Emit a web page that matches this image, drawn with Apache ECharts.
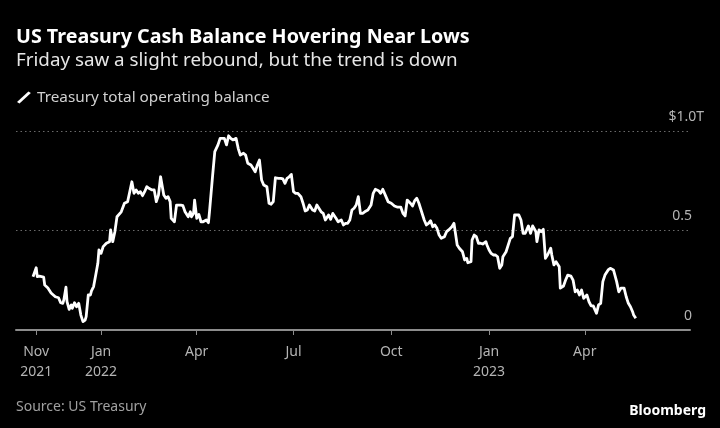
<!DOCTYPE html>
<html><head><meta charset="utf-8">
<script src="https://cdn.jsdelivr.net/npm/echarts@6/dist/echarts.min.js"></script>
<style>html,body{margin:0;padding:0;background:#000}#c{width:720px;height:428px}</style>
</head><body><div id="c"></div>
<script>
const dates = [
'2021-10-29','2021-11-01','2021-11-02','2021-11-04','2021-11-05','2021-11-08','2021-11-09','2021-11-12','2021-11-15','2021-11-19',
'2021-11-22','2021-11-24','2021-11-26','2021-11-27','2021-11-29','2021-11-30','2021-12-02','2021-12-04','2021-12-05','2021-12-07',
'2021-12-09','2021-12-11','2021-12-13','2021-12-15','2021-12-17','2021-12-18','2021-12-20','2021-12-22','2021-12-23','2021-12-25',
'2021-12-27','2021-12-29','2021-12-30','2022-01-01','2022-01-03','2022-01-06','2022-01-09','2022-01-10','2022-01-12','2022-01-14',
'2022-01-16','2022-01-20','2022-01-23','2022-01-26','2022-01-28','2022-01-30','2022-02-01','2022-02-03','2022-02-05','2022-02-07',
'2022-02-09','2022-02-11','2022-02-13','2022-02-15','2022-02-18','2022-02-20','2022-02-22','2022-02-24','2022-02-26','2022-03-01',
'2022-03-03','2022-03-05','2022-03-07','2022-03-08','2022-03-11','2022-03-13','2022-03-15','2022-03-17','2022-03-19','2022-03-21',
'2022-03-24','2022-03-26','2022-03-27','2022-03-29','2022-03-30','2022-04-01','2022-04-03','2022-04-05','2022-04-07','2022-04-10',
'2022-04-12','2022-04-13','2022-04-16','2022-04-18','2022-04-21','2022-04-23','2022-04-24','2022-04-27','2022-04-29','2022-05-01',
'2022-05-03','2022-05-05','2022-05-08','2022-05-10','2022-05-12','2022-05-15','2022-05-17','2022-05-19','2022-05-22','2022-05-24',
'2022-05-26','2022-05-28','2022-05-30','2022-06-01','2022-06-03','2022-06-06','2022-06-08','2022-06-10','2022-06-12','2022-06-14',
'2022-06-17','2022-06-19','2022-06-21','2022-06-23','2022-06-25','2022-06-27','2022-06-29','2022-07-01','2022-07-03','2022-07-05',
'2022-07-08','2022-07-10','2022-07-12','2022-07-14','2022-07-16','2022-07-19','2022-07-21','2022-07-23','2022-07-27','2022-07-29',
'2022-07-31','2022-08-03','2022-08-05','2022-08-07','2022-08-10','2022-08-12','2022-08-15','2022-08-17','2022-08-19','2022-08-21',
'2022-08-23','2022-08-25','2022-08-27','2022-08-29','2022-08-31','2022-09-02','2022-09-04','2022-09-06','2022-09-09','2022-09-12',
'2022-09-14','2022-09-16','2022-09-19','2022-09-21','2022-09-23','2022-09-26','2022-09-28','2022-10-01','2022-10-04','2022-10-07',
'2022-10-10','2022-10-12','2022-10-14','2022-10-16','2022-10-19','2022-10-21','2022-10-23','2022-10-25','2022-10-27','2022-10-29',
'2022-11-01','2022-11-03','2022-11-05','2022-11-07','2022-11-09','2022-11-11','2022-11-13','2022-11-15','2022-11-17','2022-11-20',
'2022-11-22','2022-11-24','2022-11-27','2022-11-29','2022-11-30','2022-12-02','2022-12-04','2022-12-07','2022-12-09','2022-12-11',
'2022-12-12','2022-12-15','2022-12-16','2022-12-18','2022-12-20','2022-12-22','2022-12-24','2022-12-26','2022-12-29','2022-12-30',
'2023-01-01','2023-01-03','2023-01-05','2023-01-07','2023-01-09','2023-01-11','2023-01-13','2023-01-14','2023-01-17','2023-01-18',
'2023-01-20','2023-01-21','2023-01-23','2023-01-25','2023-01-27','2023-01-29','2023-01-31','2023-02-02','2023-02-04','2023-02-07',
'2023-02-09','2023-02-11','2023-02-14','2023-02-15','2023-02-17','2023-02-19','2023-02-21','2023-02-23','2023-02-25','2023-02-28',
'2023-03-01','2023-03-03','2023-03-05','2023-03-08','2023-03-09','2023-03-12','2023-03-14','2023-03-16','2023-03-19','2023-03-21',
'2023-03-23','2023-03-25','2023-03-27','2023-03-29','2023-03-31','2023-04-03','2023-04-05','2023-04-07','2023-04-09','2023-04-10',
'2023-04-12','2023-04-14','2023-04-16','2023-04-18','2023-04-20','2023-04-23','2023-04-25','2023-04-28','2023-04-29','2023-05-01',
'2023-05-03','2023-05-05','2023-05-08','2023-05-10','2023-05-12','2023-05-14','2023-05-16','2023-05-17','2023-05-19'
];
const balance = [
0.268,0.313,0.268,0.271,0.261,0.266,0.226,0.211,0.186,0.167,
0.162,0.137,0.134,0.151,0.215,0.142,0.104,0.126,0.109,0.137,
0.117,0.134,0.075,0.042,0.050,0.067,0.176,0.176,0.197,0.218,
0.276,0.335,0.402,0.385,0.419,0.436,0.444,0.503,0.444,0.494,
0.569,0.594,0.637,0.645,0.695,0.745,0.687,0.704,0.687,0.695,
0.675,0.695,0.720,0.712,0.704,0.704,0.645,0.678,0.770,0.678,
0.662,0.670,0.645,0.561,0.544,0.628,0.628,0.628,0.625,0.594,
0.569,0.594,0.569,0.586,0.653,0.561,0.581,0.544,0.544,0.553,
0.539,0.594,0.779,0.896,0.930,0.963,0.971,0.963,0.930,0.976,
0.963,0.955,0.963,0.913,0.879,0.888,0.879,0.838,0.829,0.813,
0.795,0.829,0.854,0.754,0.729,0.720,0.637,0.632,0.645,0.765,
0.762,0.762,0.759,0.737,0.762,0.770,0.782,0.695,0.687,0.687,
0.670,0.637,0.598,0.603,0.628,0.603,0.598,0.628,0.594,0.586,
0.553,0.578,0.556,0.586,0.561,0.544,0.553,0.528,0.536,0.536,
0.553,0.603,0.612,0.628,0.670,0.586,0.586,0.594,0.603,0.628,
0.687,0.707,0.700,0.687,0.707,0.670,0.645,0.637,0.623,0.617,
0.617,0.586,0.573,0.653,0.637,0.623,0.650,0.662,0.637,0.603,
0.553,0.528,0.536,0.549,0.519,0.528,0.511,0.477,0.461,0.469,
0.494,0.503,0.519,0.536,0.536,0.427,0.411,0.393,0.352,0.360,
0.338,0.343,0.452,0.477,0.469,0.436,0.436,0.432,0.444,0.427,
0.402,0.385,0.377,0.377,0.368,0.310,0.327,0.368,0.393,0.402,
0.444,0.461,0.469,0.578,0.578,0.578,0.553,0.486,0.486,0.523,
0.486,0.523,0.494,0.444,0.503,0.494,0.506,0.360,0.377,0.411,
0.377,0.327,0.343,0.318,0.210,0.221,0.251,0.276,0.271,0.251,
0.192,0.201,0.176,0.201,0.159,0.176,0.142,0.121,0.121,0.109,
0.084,0.126,0.134,0.243,0.276,0.302,0.310,0.302,0.310,0.243,
0.192,0.210,0.210,0.167,0.134,0.117,0.092,0.075,0.059
];
const tickDates = ['2021-11-01','2022-01-01','2022-04-01','2022-07-01','2022-10-01','2023-01-01','2023-04-01'];
const tickLabels = ['Nov\n2021','Jan\n2022','Apr','Jul','Oct','Jan\n2023','Apr'];
const yTicks = [0, 0.5, 1.0];
const yLabels = ['0', '0.5', '$1.0T'];
const seriesName = 'Treasury total operating balance';

const FONT = 'Noto Sans';
const toTs = s => { const p = s.split('-'); return Date.UTC(+p[0], +p[1] - 1, +p[2]); };
const tickTs = tickDates.map(toTs);

const chart = echarts.init(document.getElementById('c'));
chart.setOption({
  backgroundColor: '#000',
  animation: false,
  title: [
    { text: 'US Treasury Cash Balance Hovering Near Lows', left: 11, top: 22,
      textStyle: { color: '#fff', fontSize: 19.7, fontWeight: 'bold', fontFamily: FONT } },
    { text: 'Friday saw a slight rebound, but the trend is down', left: 11, top: 46,
      textStyle: { color: '#e6e6e6', fontSize: 18.8, fontWeight: 'normal', fontFamily: FONT } },
    { text: 'Source: US Treasury', left: 11, top: 395,
      textStyle: { color: '#a0a0a0', fontSize: 14, fontWeight: 'normal', fontFamily: FONT } },
    { text: 'Bloomberg', right: 9, top: 399,
      textStyle: { color: '#fff', fontSize: 14, fontWeight: 'bold', fontFamily: FONT } }
  ],
  legend: {
    left: 12, top: 85, data: [seriesName],
    icon: 'path://M0,10.5 L11.5,0 L14,1.6 L2.5,12.1 Z',
    itemWidth: 14, itemHeight: 12,
    textStyle: { color: '#d0d0d0', fontSize: 15.3, fontFamily: FONT, padding: [0, 0, 0, 1] }
  },
  grid: { left: 16, right: 30, top: 131, bottom: 98 },
  xAxis: {
    type: 'value', min: toTs('2021-10-13'), max: toTs('2023-07-09'),
    axisLine: { lineStyle: { color: '#8c8c8c', width: 2 } },
    axisTick: { show: true, length: 5, customValues: tickTs, lineStyle: { color: '#8c8c8c', width: 1 } },
    axisLabel: {
      customValues: tickTs, margin: 12, color: '#b4b4b4', fontSize: 14, fontFamily: FONT, lineHeight: 20,
      formatter: v => { const i = tickTs.indexOf(v); return i >= 0 ? tickLabels[i] : ''; }
    },
    splitLine: { show: false }
  },
  yAxis: {
    type: 'value', position: 'right', min: 0, max: 1, interval: 0.5,
    axisLine: { show: false }, axisTick: { show: false },
    splitLine: { lineStyle: { color: '#6a6a6a', type: [1.5, 3], width: 1 } },
    axisLabel: {
      inside: true, margin: -14, align: 'right', verticalAlign: 'bottom',
      formatter: v => { const i = yTicks.indexOf(v); if (i < 0) return ''; return i === 2 ? '{a|' + yLabels[i] + '}' : '{p|' + yLabels[i] + '}'; },
      rich: {
        a: { color: '#b4b4b4', fontSize: 14, fontFamily: FONT, lineHeight: 28 },
        p: { color: '#b4b4b4', fontSize: 14, fontFamily: FONT, lineHeight: 28, padding: [0, 12, 0, 0] }
      }
    }
  },
  series: [{
    name: seriesName, type: 'line', showSymbol: false, symbol: 'none',
    data: dates.map((d, i) => [toTs(d), balance[i]]),
    lineStyle: { color: '#fff', width: 2.8, join: 'round' }, itemStyle: { color: '#fff' }
  }]
});
</script></body></html>
